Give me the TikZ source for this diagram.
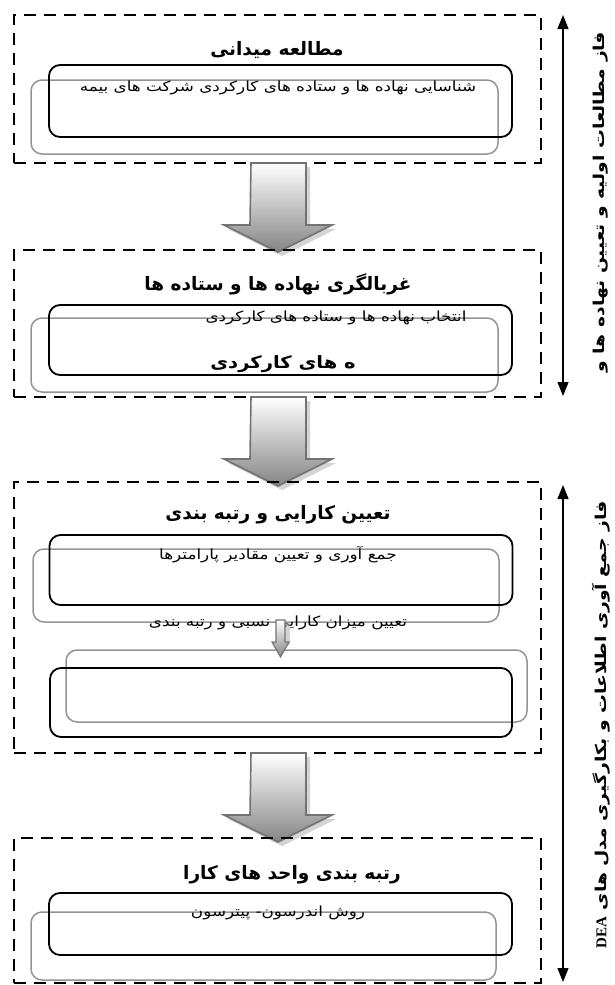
\documentclass[tikz,border=0pt]{standalone}
\usepackage{fontspec}
\setmainfont{Liberation Serif}
\newfontfamily\fa[Script=Arabic]{DejaVu Sans}
\newfontfamily\faw[Script=Arabic,FakeStretch=1.2]{DejaVu Sans}
\newfontfamily\fas[Script=Arabic,FakeStretch=1.25]{DejaVu Sans}
\newfontfamily\fab[Script=Arabic,FakeStretch=1.15]{DejaVu Sans}
\TeXXeTstate=1
\usetikzlibrary{arrows.meta,calc}
\tikzset{
  dbox/.style={draw=black, line width=2.2pt, dash pattern=on 12pt off 8pt, inner sep=0pt, outer sep=0pt},
  blackr/.style={draw=black, line width=1.8pt, rounded corners=11pt, inner sep=0pt, outer sep=0pt},
  grayr/.style={draw=black!42, line width=1.5pt, rounded corners=11pt, inner sep=0pt, outer sep=0pt},
  ttl/.style={font=\fa\bfseries\fontsize{18.5}{20}\selectfont, inner sep=0pt},
  txt/.style={font=\faw\fontsize{14}{16}\selectfont, inner sep=0pt},
  side/.style={font=\fas\bfseries\fontsize{15}{17}\selectfont, rotate=90, inner sep=0pt},
  phase/.style={line width=1.3pt, {Triangle[length=14pt,width=11pt]}-{Triangle[length=14pt,width=11pt]}},
  barrowfill/.style={top color=white, bottom color=black!48, draw=black!55, line width=1.6pt},
  bshadow/.style={fill=black!30, opacity=0.55},
}
\newcommand{\bigarrow}[2]{% x, top y
  \fill[bshadow] ($(#1,#2)+(4,4)$) ++(-27.5,0) -- ++(55,0) -- ++(0,62) -- ++(26,0) -- ++(-54,27) -- ++(-54,-27) -- ++(26,0) -- cycle;
  \shade[barrowfill] (#1,#2) ++(-27.5,0) -- ++(55,0) -- ++(0,62) -- ++(26,0) -- ++(-54,27) -- ++(-54,-27) -- ++(26,0) -- cycle;
}
\begin{document}
\begin{tikzpicture}[x=1pt,y=-1pt]
\useasboundingbox (0,0) rectangle (614,985);
\fill[white] (0,0) rectangle (614,985);

% ---------- phase 1 ----------
\node[dbox, minimum width=527pt, minimum height=148pt] (b1) at (277.5,89) {};
\node[grayr, minimum width=467pt, minimum height=74pt] (g1) at (264.5,117) {};
\node[blackr, minimum width=463pt, minimum height=72pt] (k1) at (280.5,101) {};
\node[ttl] (t1) at (277,50) {\beginR مطالعه میدانی\endR};
\node[txt] (s1) at (278,88) {\beginR شناسایی نهاده ها و ستاده های کارکردی شرکت های بیمه\endR};

\bigarrow{278.5}{163}

% ---------- box 2 ----------
\node[dbox, minimum width=527pt, minimum height=147pt] (b2) at (277.5,323.5) {};
\node[grayr, minimum width=467pt, minimum height=74pt] (g2) at (264.5,355) {};
\node[blackr, minimum width=463pt, minimum height=70pt] (k2) at (280.5,340) {};
\node[ttl] (t2) at (278,284) {\beginR غربالگری نهاده ها و ستاده ها\endR};
\node[txt] (s2) at (336,318) {\beginR انتخاب نهاده ها و ستاده های کارکردی\endR};
\node[font=\fab\bfseries\fontsize{17}{19}\selectfont, inner sep=0pt] (s2b) at (283,364) {\beginR ه های کارکردی\endR};

\bigarrow{278.5}{397}

% ---------- box 3 ----------
\node[dbox, minimum width=527pt, minimum height=271pt] (b3) at (277.5,617.5) {};
\node[grayr, minimum width=466pt, minimum height=73pt] (g3) at (266,585.5) {};
\node[blackr, minimum width=463pt, minimum height=70pt] (k3) at (281,570) {};
\node[grayr, minimum width=461pt, minimum height=72pt] (g4) at (296.5,686) {};
\node[blackr, minimum width=462pt, minimum height=69pt] (k4) at (281,702.5) {};
\node[ttl] (t3) at (278,515) {\beginR تعیین کارایی و رتبه بندی\endR};
\node[txt] (s3) at (278,555) {\beginR جمع آوری و تعیین مقادیر پارامترها\endR};
\node[txt] (s4) at (278,623) {\beginR تعیین میزان کارایی نسبی و رتبه بندی\endR};
\fill[bshadow] (283,622) rectangle (290,645);
\shade[barrowfill, line width=1.1pt] (276,620) -- (285,620) -- (285,642) -- (289,642) -- (280.5,657) -- (272,642) -- (276,642) -- cycle;

\bigarrow{278.5}{753}

% ---------- box 4 ----------
\node[dbox, minimum width=527pt, minimum height=145pt] (b4) at (277.5,910.5) {};
\node[grayr, minimum width=465pt, minimum height=68pt] (g5) at (263.5,946) {};
\node[blackr, minimum width=463pt, minimum height=62pt] (k5) at (280.5,924) {};
\node[ttl] (t4) at (292,875) {\beginR رتبه بندی واحد های کارا\endR};
\node[txt] (s5) at (278,913) {\beginR روش اندرسون- پیترسون\endR};

% ---------- phase arrows ----------
\coordinate (p1a) at (563,15);
\coordinate (p1b) at (563,396);
\coordinate (p2a) at (563,485);
\coordinate (p2b) at (563,982);
\draw[phase] (p1a) -- (p1b);
\draw[phase] (p2a) -- (p2b);
\node[side] (l1) at (601,202) {\beginR فاز مطالعات اولیه و تعیین نهاده ها و\endR};
\node[side] (l2) at (601,725) {\beginR فاز جمع آوری اطلاعات و بکارگیری مدل های \beginL{\normalfont\bfseries\fontsize{15}{17}\selectfont DEA}\endL\endR};
\end{tikzpicture}
\end{document}
